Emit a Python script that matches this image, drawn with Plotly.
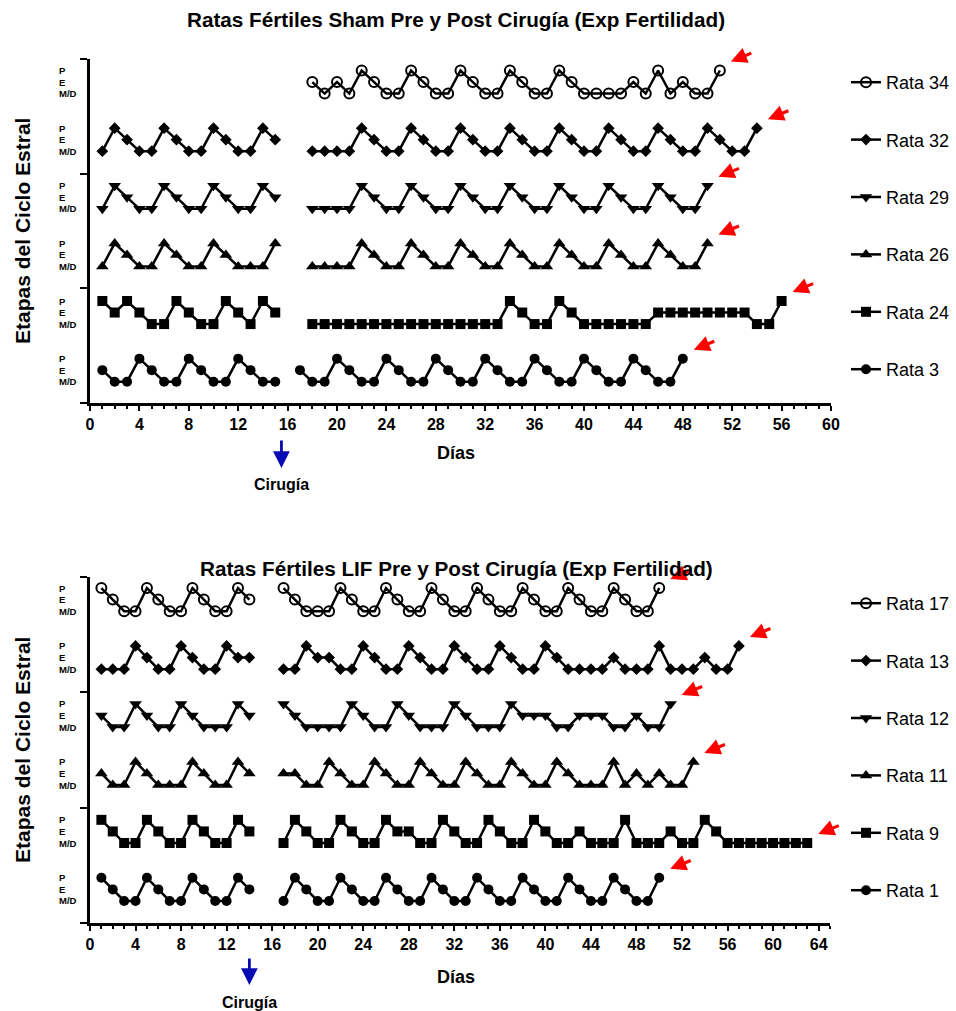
import plotly.graph_objects as go

# ---------------- DATA ----------------
# stage codes: "P" = proestro, "E" = estro, "M" = metaestro/diestro (M/D)
# ---- Sham (top chart), listed top to bottom ----
sham_names = ["Rata 34", "Rata 32", "Rata 29", "Rata 26", "Rata 24", "Rata 3"]
sham_symbols = ["circle-open", "diamond", "triangle-down", "triangle-up", "square", "circle"]
sham_pre_start = [1, 1, 1, 1, 1, 1]
sham_post_start = [18, 18, 18, 18, 18, 17]

rata34_pre = []
rata34_post = ["E", "M", "E", "M", "P", "E", "M", "M", "P", "E", "M", "M", "P", "E", "M", "M", "P",
               "E", "M", "M", "P", "E", "M", "M", "M", "M", "E", "M", "P", "M", "E", "M", "M", "P"]
rata32_pre = ["M", "P", "E", "M", "M", "P", "E", "M", "M", "P", "E", "M", "M", "P", "E"]
rata32_post = ["M", "M", "M", "M", "P", "E", "M", "M", "P", "E", "M", "M", "P", "E", "M", "M", "P",
               "E", "M", "M", "P", "E", "M", "M", "P", "E", "M", "M", "P", "E", "M", "M", "P", "E",
               "M", "M", "P"]
rata29_pre = ["M", "P", "E", "M", "M", "P", "E", "M", "M", "P", "E", "M", "M", "P", "E"]
rata29_post = ["M", "M", "M", "M", "P", "E", "M", "M", "P", "E", "M", "M", "P", "E", "M", "M", "P",
               "E", "M", "M", "P", "E", "M", "M", "P", "E", "M", "M", "P", "E", "M", "M", "P"]
rata26_pre = ["M", "P", "E", "M", "M", "P", "E", "M", "M", "P", "E", "M", "M", "M", "P"]
rata26_post = ["M", "M", "M", "M", "P", "E", "M", "M", "P", "E", "M", "M", "P", "E", "M", "M", "P",
               "E", "M", "M", "P", "E", "M", "M", "P", "E", "M", "M", "P", "E", "M", "M", "P"]
rata24_pre = ["P", "E", "P", "E", "M", "M", "P", "E", "M", "M", "P", "E", "M", "P", "E"]
rata24_post = ["M", "M", "M", "M", "M", "M", "M", "M", "M", "M", "M", "M", "M", "M", "M", "M",
               "P", "E", "M", "M", "P", "E", "M", "M", "M", "M", "M", "M",
               "E", "E", "E", "E", "E", "E", "E", "E", "M", "M", "P"]
rata3_pre = ["E", "M", "M", "P", "E", "M", "M", "P", "E", "M", "M", "P", "E", "M", "M"]
rata3_post = ["E", "M", "M", "P", "E", "M", "M", "P", "E", "M", "M", "P", "E", "M", "M", "P",
              "E", "M", "M", "P", "E", "M", "M", "P", "E", "M", "M", "P", "E", "M", "M", "P"]

sham_pre = [rata34_pre, rata32_pre, rata29_pre, rata26_pre, rata24_pre, rata3_pre]
sham_post = [rata34_post, rata32_post, rata29_post, rata26_post, rata24_post, rata3_post]

# ---- LIF (bottom chart), listed top to bottom ----
lif_names = ["Rata 17", "Rata 13", "Rata 12", "Rata 11", "Rata 9", "Rata 1"]
lif_symbols = ["circle-open", "diamond", "triangle-down", "triangle-up", "square", "circle"]
lif_pre_start = [1, 1, 1, 1, 1, 1]
lif_post_start = [17, 17, 17, 17, 17, 17]

rata17_pre = ["P", "E", "M", "M", "P", "E", "M", "M", "P", "E", "M", "M", "P", "E"]
rata17_post = ["P", "E", "M", "M", "M", "P", "E", "M", "M", "P", "E", "M", "M", "P", "E", "M", "M",
               "P", "E", "M", "M", "P", "E", "M", "M", "P", "E", "M", "M", "P", "E", "M", "M", "P"]
rata13_pre = ["M", "M", "M", "P", "E", "M", "M", "P", "E", "M", "M", "P", "E", "E"]
rata13_post = ["M", "M", "P", "E", "E", "M", "M", "P", "E", "M", "M", "P", "E", "M", "M", "P", "E",
               "M", "M", "P", "E", "M", "M", "P", "E", "M", "M", "M", "M", "E", "M", "M", "M", "P",
               "M", "M", "M", "E", "M", "M", "P"]
rata12_pre = ["E", "M", "M", "P", "E", "M", "M", "P", "E", "M", "M", "M", "P", "E"]
rata12_post = ["P", "E", "M", "M", "M", "M", "P", "E", "M", "M", "P", "E", "M", "M", "M", "P", "E",
               "M", "M", "M", "P", "E", "E", "E", "M", "M", "E", "E", "E", "M", "M", "E", "M", "M", "P"]
rata11_pre = ["E", "M", "M", "P", "E", "M", "M", "M", "P", "E", "M", "M", "P", "E"]
rata11_post = ["E", "E", "M", "M", "P", "E", "M", "M", "P", "E", "M", "M", "P", "E", "M", "M", "P",
               "E", "M", "M", "P", "E", "M", "M", "P", "E", "M", "M", "M", "P", "M", "E", "M", "E",
               "M", "M", "P"]
rata9_pre = ["P", "E", "M", "M", "P", "E", "M", "M", "P", "E", "M", "M", "P", "E"]
rata9_post = ["M", "P", "E", "M", "M", "P", "E", "M", "M", "P", "E", "E", "M", "M", "P", "E", "M",
              "M", "P", "E", "M", "M", "P", "E", "M", "M", "E", "M", "M", "M", "P", "M", "M", "M",
              "E", "M", "M", "P", "E", "M", "M", "M", "M", "M", "M", "M", "M"]
rata1_pre = ["P", "E", "M", "M", "P", "E", "M", "M", "P", "E", "M", "M", "P", "E"]
rata1_post = ["M", "P", "E", "M", "M", "P", "E", "M", "M", "P", "E", "M", "M", "P", "E", "M", "M",
              "P", "E", "M", "M", "P", "E", "M", "M", "P", "E", "M", "M", "P", "E", "M", "M", "P"]

lif_pre = [rata17_pre, rata13_pre, rata12_pre, rata11_pre, rata9_pre, rata1_pre]
lif_post = [rata17_post, rata13_post, rata12_post, rata11_post, rata9_post, rata1_post]

stage_labels = ["M/D", "E", "P"]
x_ticks_top = list(range(0, 61, 4))
x_ticks_bottom = list(range(0, 65, 4))

# ---------------- STYLE ----------------
FONT = "Liberation Sans, Arial, sans-serif"
W, H = 956, 1011
LEVEL = {"M": 0, "E": 1, "P": 2}
BAND = 5
BLACK = "#000000"

top_dom_x = [90 / W, 831 / W]
top_dom_y = [1 - 403 / H, 1 - 59 / H]
bot_dom_x = [90 / W, 830 / W]
bot_dom_y = [1 - 923 / H, 1 - 577 / H]
top_yr = [-1.85, 28.0]
bot_yr = [-1.9, 27.95]

fig = go.Figure()
annotations = []


def build(pre, pre_start, post, post_start, k):
    xs, ys = [], []
    for i, s in enumerate(pre):
        xs.append(pre_start + i)
        ys.append(BAND * k + LEVEL[s])
    if pre:
        xs.append(None)
        ys.append(None)
    for i, s in enumerate(post):
        xs.append(post_start + i)
        ys.append(BAND * k + LEVEL[s])
    return xs, ys


def add_group(names, symbols, pres, pre_starts, posts, post_starts, xa, ya, legend, yref):
    n = len(names)
    for idx in range(n):
        k = n - 1 - idx  # band index from bottom
        xs, ys = build(pres[idx], pre_starts[idx], posts[idx], post_starts[idx], k)
        sym = symbols[idx]
        size = 10
        if sym == "diamond":
            size = 9
        if sym.startswith("triangle"):
            size = 11
        fig.add_trace(go.Scatter(
            x=xs, y=ys, mode="lines+markers", name=names[idx],
            xaxis=xa, yaxis=ya, legend=legend, legendgroup=names[idx],
            connectgaps=False,
            line=dict(color=BLACK, width=2.5),
            marker=dict(symbol=sym, size=size, color=BLACK,
                        line=dict(color=BLACK, width=2 if sym == "circle-open" else 0)),
        ))
        # red arrow at the last observation
        lx = [v for v in xs if v is not None][-1]
        ly = [v for v in ys if v is not None][-1]
        annotations.append(dict(
            x=lx, y=ly, xref=xa, yref=yref, text="", showarrow=True,
            ax=22, ay=-9, xshift=11, yshift=9,
            arrowcolor="#ff0000", arrowwidth=3.2, arrowhead=2, arrowsize=1.0,
        ))
        # stage labels on the y axis
        for lev, lab in enumerate(stage_labels):
            annotations.append(dict(
                x=57 / W, y=BAND * k + lev, xref="paper", yref=yref, text=lab,
                showarrow=False, xanchor="left", yanchor="middle",
                font=dict(family=FONT, size=9.5, color=BLACK, weight="bold"),
            ))


add_group(sham_names, sham_symbols, sham_pre, sham_pre_start, sham_post, sham_post_start,
          "x", "y", "legend", "y")
add_group(lif_names, lif_symbols, lif_pre, lif_pre_start, lif_post, lif_post_start,
          "x2", "y2", "legend2", "y2")


def xaxis(domain, rng, ticks, anchor):
    return dict(
        domain=domain, range=rng, anchor=anchor, showgrid=False, zeroline=False,
        showline=True, linecolor=BLACK, linewidth=2.5,
        tickmode="array", tickvals=ticks, ticktext=[str(t) for t in ticks],
        ticks="outside", ticklen=5, tickwidth=2, tickcolor=BLACK,
        tickfont=dict(family=FONT, size=16, color=BLACK, weight="bold"),
        minor=dict(dtick=1, tick0=0, ticks="outside", ticklen=3, tickwidth=1.5, tickcolor=BLACK),
    )


def yaxis(domain, rng, anchor):
    step = (rng[1] - rng[0]) / 3
    return dict(
        domain=domain, range=rng, anchor=anchor, showgrid=False, zeroline=False,
        showline=True, linecolor=BLACK, linewidth=2.5, showticklabels=False,
        tickmode="array", tickvals=[], ticks="",
        minor=dict(tickmode="array", tickvals=[rng[0] + i * step for i in range(4)],
                   ticks="outside", ticklen=7, tickwidth=2, tickcolor=BLACK),
    )


# titles and axis titles
for txt, y in [("Ratas Fértiles Sham Pre y Post Cirugía (Exp Fertilidad)", 20),
               ("Ratas Fértiles LIF Pre y Post Cirugía (Exp Fertilidad)", 568)]:
    annotations.append(dict(x=456 / W, y=1 - y / H, xref="paper", yref="paper", text=txt,
                            showarrow=False, xanchor="center", yanchor="middle",
                            font=dict(family=FONT, size=20.7, color=BLACK, weight="bold")))
for y in [231, 750]:
    annotations.append(dict(x=22 / W, y=1 - y / H, xref="paper", yref="paper",
                            text="Etapas del Ciclo Estral", textangle=-90, showarrow=False,
                            xanchor="center", yanchor="middle",
                            font=dict(family=FONT, size=21, color=BLACK, weight="bold")))
for y in [453, 977]:
    annotations.append(dict(x=456 / W, y=1 - y / H, xref="paper", yref="paper", text="Días",
                            showarrow=False, xanchor="center", yanchor="middle",
                            font=dict(family=FONT, size=18, color=BLACK, weight="bold")))

# surgery markers
for xr, day, tip, tail, ty in [("x", 15.5, 468, 439, 485), ("x2", 14.0, 985, 957, 1002)]:
    annotations.append(dict(x=day, y=1 - tip / H, xref=xr, yref="paper", text="",
                            showarrow=True, ax=0, ay=-(tip - tail),
                            arrowcolor="#0a0ab4", arrowwidth=2.8, arrowhead=2, arrowsize=1.2))
    annotations.append(dict(x=day, y=1 - ty / H, xref=xr, yref="paper", text="Cirugía",
                            showarrow=False, xanchor="center", yanchor="middle",
                            font=dict(family=FONT, size=16, color=BLACK, weight="bold")))

legend_common = dict(
    font=dict(family=FONT, size=18, color=BLACK),
    bgcolor="rgba(0,0,0,0)", borderwidth=0, tracegroupgap=31, itemwidth=30,
    xanchor="left", yanchor="top", itemclick=False,
)

fig.update_layout(
    width=W, height=H, autosize=False,
    margin=dict(l=0, r=0, t=0, b=0, autoexpand=False),
    paper_bgcolor="white", plot_bgcolor="white",
    showlegend=True,
    xaxis=xaxis(top_dom_x, [0, 60], x_ticks_top, "y"),
    yaxis=yaxis(top_dom_y, top_yr, "x"),
    xaxis2=xaxis(bot_dom_x, [0, 65], x_ticks_bottom, "y2"),
    yaxis2=yaxis(bot_dom_y, bot_yr, "x2"),
    legend=dict(x=846 / W, y=1 - 64 / H, **legend_common),
    legend2=dict(x=846 / W, y=1 - 585 / H, **legend_common),
    annotations=annotations,
)

fig.write_html("out.html", config={"displayModeBar": False},
               post_script="document.body.style.margin='0px';document.body.style.overflow='hidden';")
